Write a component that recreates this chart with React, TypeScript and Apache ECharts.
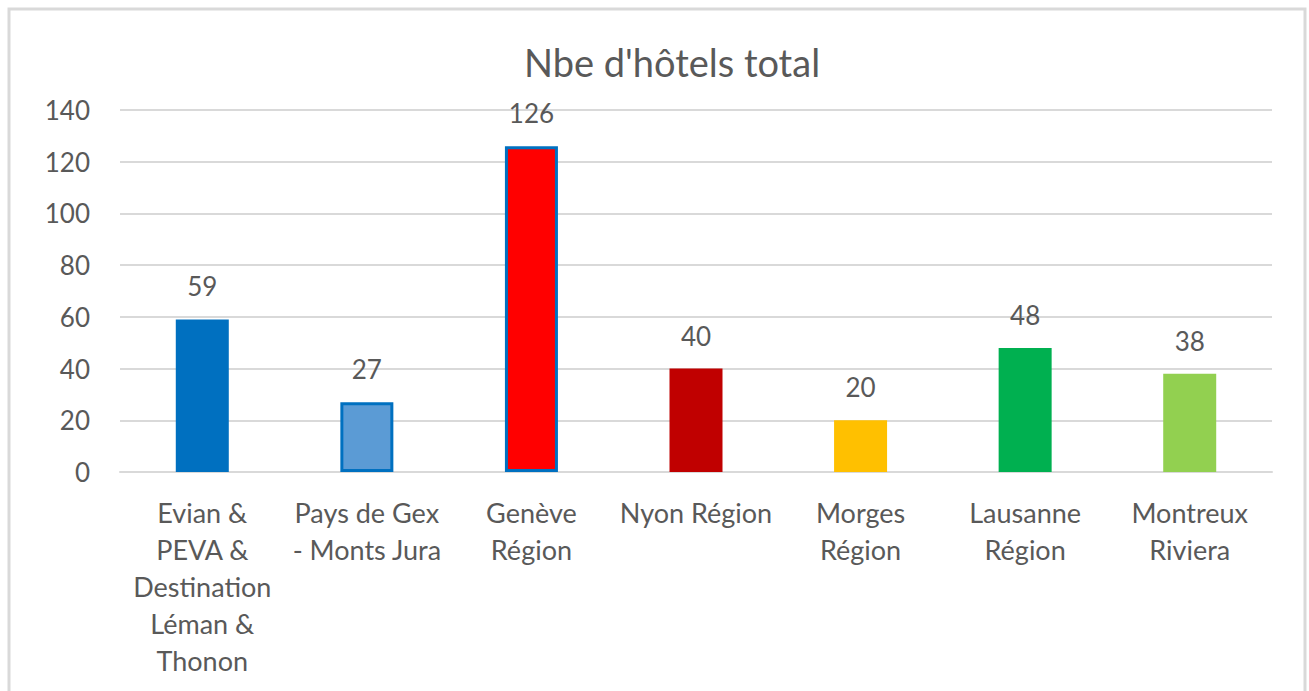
import React, { useEffect, useRef } from "react";
import * as echarts from "echarts";

const categories = [
  "Evian &\nPEVA &\nDestination\nLéman &\nThonon",
  "Pays de Gex\n- Monts Jura",
  "Genève\nRégion",
  "Nyon Région",
  "Morges\nRégion",
  "Lausanne\nRégion",
  "Montreux\nRiviera",
];
const values = [59, 27, 126, 40, 20, 48, 38];
const barColors = ["#0070C0", "#5B9BD5", "#FF0000", "#C00000", "#FFC000", "#00B050", "#92D050"];
const borderColors = ["#0070C0", "#0070C0", "#0070C0", "#C00000", "#FFC000", "#00B050", "#92D050"];
const titleText = "Nbe d'hôtels total";

const FONT = "Lato, 'Open Sans', sans-serif";
const TXT = "#595959";

export default function App() {
  const ref = useRef<HTMLDivElement>(null);
  useEffect(() => {
    const chart = echarts.init(ref.current!, null, { renderer: "svg" });
    chart.setOption({
      animation: false,
      backgroundColor: "#ffffff",
      title: {
        text: titleText,
        left: 667,
        textAlign: "center",
        top: 38,
        textStyle: { fontFamily: FONT, fontSize: 38, fontWeight: "normal", color: TXT },
      },
      graphic: [
        {
          type: "rect",
          shape: { x: 9, y: 9, width: 1296, height: 700 },
          style: { fill: "none", stroke: "#d9d9d9", lineWidth: 3 },
          silent: true,
        },
      ],
      grid: { left: 120, right: 37, top: 110, bottom: 219 },
      xAxis: {
        type: "category",
        data: categories,
        axisLine: { show: true, lineStyle: { color: "#d9d9d9", width: 2 } },
        axisTick: { show: false },
        axisLabel: {
          interval: 0,
          fontFamily: FONT,
          fontSize: 27,
          color: TXT,
          lineHeight: 37,
          margin: 22,
        },
      },
      yAxis: {
        type: "value",
        min: 0,
        max: 140,
        interval: 20,
        axisLine: { show: false },
        axisTick: { show: false },
        splitLine: { lineStyle: { color: "#d9d9d9", width: 2 } },
        axisLabel: { fontFamily: FONT, fontSize: 26, color: TXT, margin: 30 },
      },
      series: [
        {
          type: "bar",
          barWidth: 53,
          data: values.map((v, i) => ({
            value: v,
            itemStyle: {
              color: barColors[i],
              borderColor: borderColors[i],
              borderWidth: i === 1 || i === 2 ? 3 : 0,
            },
          })),
          label: {
            show: true,
            position: "top",
            distance: 20,
            fontFamily: FONT,
            fontSize: 26,
            color: TXT,
          },
        },
      ],
    });
    return () => chart.dispose();
  }, []);
  return (
    <div
      ref={ref}
      style={{ position: "absolute", left: 0, top: 0, width: 1309, height: 691 }}
    />
  );
}
